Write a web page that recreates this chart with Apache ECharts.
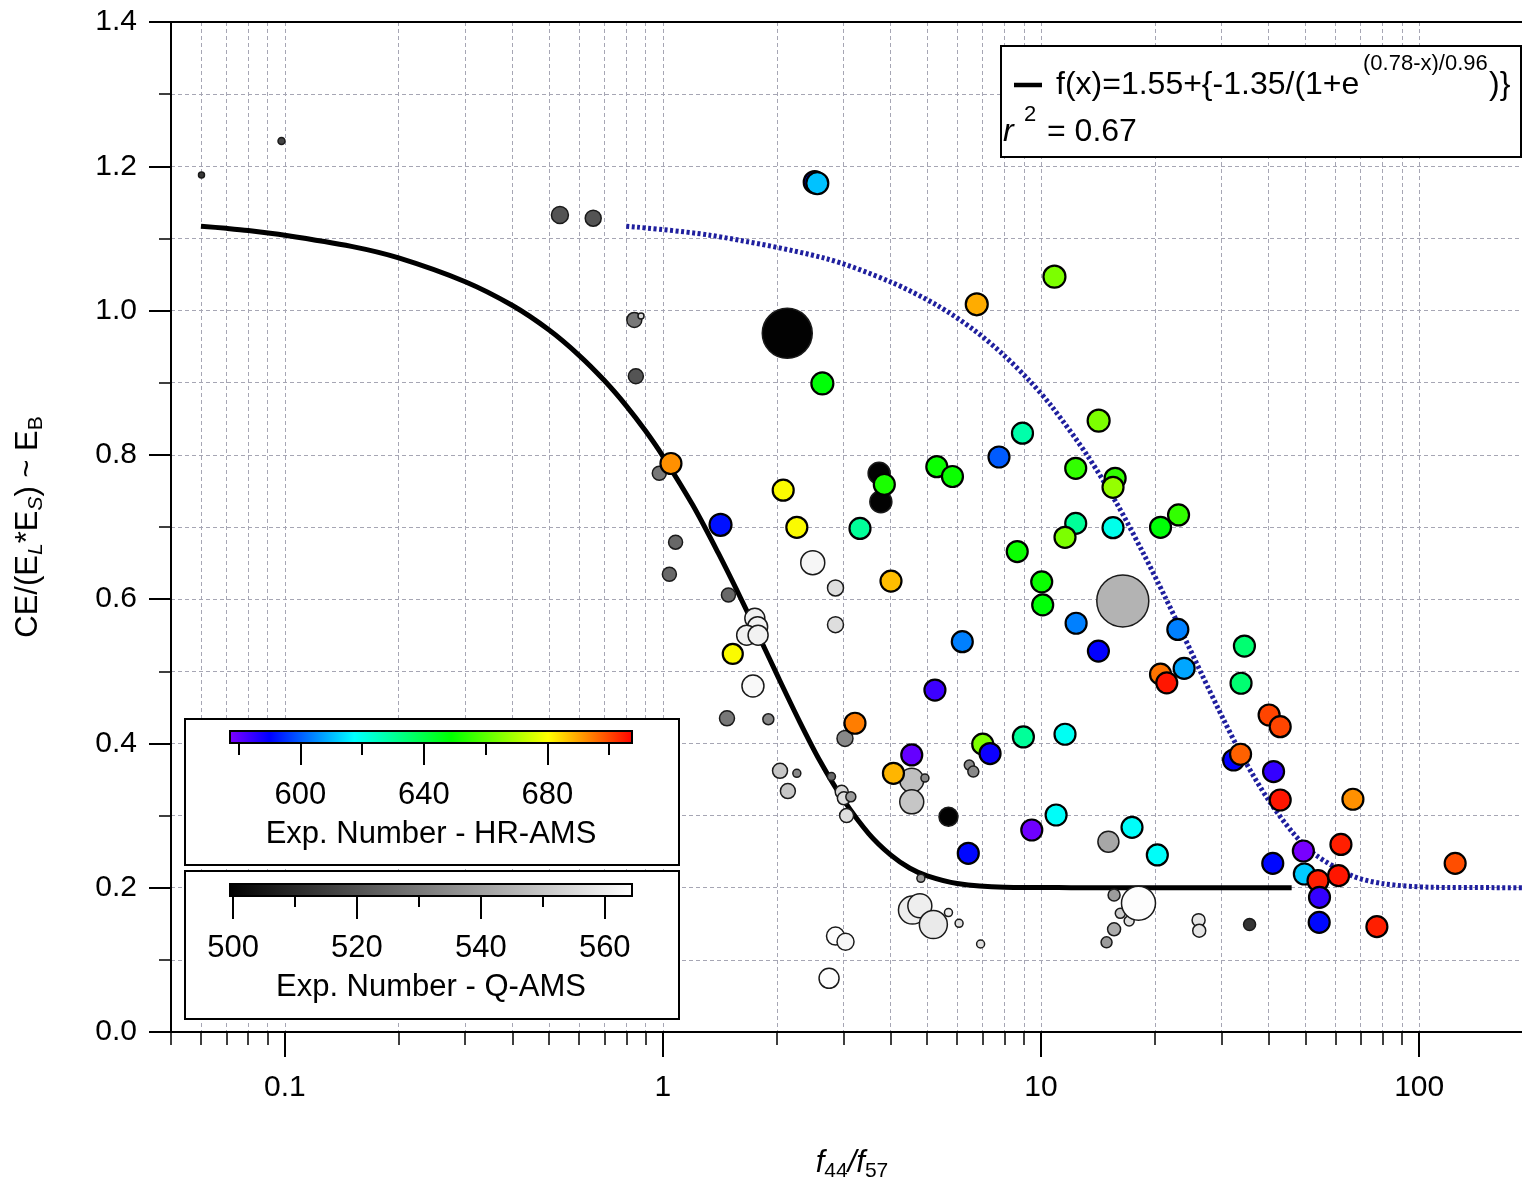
<!DOCTYPE html>
<html><head><meta charset="utf-8">
<script src="https://cdn.jsdelivr.net/npm/echarts@6/dist/echarts.min.js"></script>
<style>html,body{margin:0;padding:0;background:#fff}#c{width:1522px;height:1182px}</style>
</head><body><div id="c"></div>
<script>
const FONT = '"Liberation Sans", Arial, Helvetica, sans-serif';

// ---------- DATA ----------
const xMajorTicks = [0.1, 1, 10, 100];
const hrTicksMajor = [600, 640, 680];
const hrTicksMinor = [580, 620, 660, 700];
const qTicksMajor = [500, 520, 540, 560];
const qTicksMinor = [510, 530, 550];
const hrRange = [577.2, 707.4];
const qRange = [499.5, 564.4];
const hrAnchors = [[0, '#8000ff'], [0.1, '#0000ff'], [0.31, '#00ffff'], [0.55, '#00ff00'], [0.79, '#ffff00'], [1, '#ff0000']];
const qAnchors = [[0, '#000000'], [1, '#ffffff']];

// fitted sigmoid
const fitCurve = [
  [0.06,1.117],[0.07,1.114],[0.08,1.111],[0.1,1.1045],[0.15,1.089],[0.2,1.073],[0.3,1.040],
  [0.4,1.007],[0.5,0.973],[0.6,0.938],[0.7,0.903],[0.8,0.868],[0.9,0.833],[1.0,0.798],
  [1.2,0.730],[1.4,0.664],[1.6,0.603],[1.8,0.547],[2.0,0.496],[2.3,0.430],[2.6,0.376],
  [3.0,0.322],[3.5,0.275],[4.0,0.2455],[4.5,0.227],[5,0.2164],[6,0.2058],[8,0.2007],
  [12,0.2001],[20,0.2],[46,0.2]
];
// shifted sigmoid (blue dotted curve)
const shiftedCurve = [
  [0.8,1.117],[1.33,1.1045],[2.66,1.073],[3.99,1.040],[5.32,1.007],[6.65,0.973],[7.98,0.938],
  [9.31,0.903],[10.64,0.868],[13.3,0.798],[15.96,0.730],[18.62,0.664],[21.28,0.603],
  [23.94,0.547],[26.6,0.496],[30.59,0.430],[34.58,0.376],[39.9,0.322],[46.55,0.275],
  [53.2,0.2455],[66.5,0.2164],[79.8,0.2058],[106.4,0.2007],[159.6,0.2001],[200,0.2]
];

// Q-AMS experiments: [f44/f57, CE/(EL*ES), exp number, marker size]
const qamsPoints = [
  [0.0602,1.188,514,6],[0.098,1.235,517,7],[0.534,1.1325,521,17],[0.654,1.128,521,16],
  [0.840,0.987,530,15],[0.875,0.9925,556,6],[0.848,0.909,521,15],[2.132,0.9685,500,50],
  [0.978,0.7745,530,14],[1.08,0.679,526,14],[1.04,0.6345,526,14],[2.49,0.6506,562,24],
  [2.86,0.6155,556,16],[2.86,0.5646,556,16],[1.49,0.6058,526,14],[1.75,0.5735,561,20],
  [1.78,0.5618,561,20],[1.665,0.550,561,20],[1.785,0.550,561,20],[1.73,0.4796,563,22],
  [1.477,0.4348,530,15],[1.90,0.4335,534,11],[3.03,0.407,534,16],[3.73,0.7745,500,22],
  [3.77,0.735,500,22],[4.55,0.349,548,24],[4.55,0.319,550,24],[5.69,0.2985,500,19],
  [6.46,0.370,534,10],[6.62,0.361,534,11],[2.04,0.362,550,15],[2.26,0.3586,534,8],
  [2.14,0.334,550,15],[2.79,0.354,526,8],[2.97,0.333,554,13],[3.01,0.324,556,13],
  [3.14,0.326,539,10],[3.06,0.300,556,14],[4.81,0.213,539,8],[4.57,0.169,560,28],
  [4.78,0.175,560,24],[5.19,0.149,559,28],[5.69,0.1655,560,8],[6.07,0.1507,556,8],
  [6.92,0.122,556,8],[2.86,0.133,564,18],[3.04,0.125,562,17],[2.75,0.0744,564,20],
  [16.45,0.5975,545,52],[15.07,0.2638,542,21],[15.6,0.19,539,12],[16.2,0.1645,551,10],
  [17.1,0.154,556,10],[15.6,0.1424,543,13],[14.9,0.1243,539,11],[18.1,0.1784,564,34],
  [26.1,0.155,558,13],[26.2,0.1404,558,13],[35.6,0.149,513,12],[4.93,0.352,534,8]
];

// HR-AMS experiments: [f44/f57, CE/(EL*ES), exp number, marker size]
const hramsPoints = [
  [2.52,1.178,592,22],[2.56,1.1765,611,22],[2.64,0.899,648,22],[6.76,1.0087,689,22],
  [10.85,1.047,664,22],[8.93,0.83,628,21],[7.74,0.797,600,21],[1.05,0.788,692,21],
  [2.08,0.751,680,21],[1.42,0.703,592,22],[2.26,0.6996,680,21],[1.53,0.524,680,20],
  [3.22,0.428,694,21],[3.85,0.759,652,21],[3.32,0.698,630,21],[4.01,0.625,687,21],
  [5.30,0.7836,650,21],[5.83,0.770,650,21],[8.65,0.666,650,21],[10.04,0.624,650,21],
  [10.1,0.592,648,21],[6.19,0.541,604,21],[5.24,0.474,584,21],[8.98,0.409,630,21],
  [7.01,0.399,664,21],[7.33,0.386,589,21],[4.55,0.384,580,21],[4.07,0.3586,688,21],
  [6.42,0.2477,591,21],[9.45,0.280,579,21],[14.2,0.8474,664,22],[12.35,0.7814,655,21],
  [15.7,0.7675,655,21],[15.5,0.755,667,21],[12.35,0.705,630,21],[11.57,0.6857,664,21],
  [15.5,0.699,620,21],[20.7,0.6996,648,21],[23.1,0.7167,655,21],[12.38,0.5666,604,21],
  [14.18,0.528,590,21],[23.0,0.558,604,21],[23.9,0.504,608,21],[20.7,0.496,695,21],
  [21.5,0.484,705,21],[34.5,0.535,635,21],[33.8,0.4834,635,21],[40.1,0.4394,700,21],
  [42.9,0.4232,700,21],[32.3,0.377,590,21],[33.7,0.385,697,21],[41.2,0.361,585,21],
  [42.9,0.3216,705,21],[66.8,0.3226,692,21],[11.57,0.4127,619,21],[10.96,0.3008,618,21],
  [17.4,0.2837,618,21],[20.3,0.2454,618,21],[49.4,0.2509,578,21],[41.0,0.2338,591,21],
  [62.1,0.260,704,21],[49.7,0.219,612,21],[54.0,0.2097,704,21],[61.2,0.2167,705,21],
  [54.5,0.1867,585,21],[54.4,0.152,591,21],[77.3,0.146,704,21],[124.5,0.2338,699,21]
];

// ---------- HELPERS (styling only) ----------
function hexToRgb(h) { return [1, 3, 5].map(i => parseInt(h.substr(i, 2), 16)); }
function sampleColors(anchors, n) {
  const out = [];
  for (let k = 0; k < n; k++) {
    const t = k / (n - 1);
    let j = 0;
    while (j < anchors.length - 2 && t > anchors[j + 1][0]) j++;
    const [t0, c0] = anchors[j], [t1, c1] = anchors[j + 1];
    const u = (t - t0) / (t1 - t0);
    const a = hexToRgb(c0), b = hexToRgb(c1);
    out.push('rgb(' + a.map((v, i) => Math.round(v + (b[i] - v) * u)).join(',') + ')');
  }
  return out;
}
const hrColors = sampleColors(hrAnchors, 61);
const qColors = sampleColors(qAnchors, 2);

// ---------- CHART ----------
const chart = echarts.init(document.getElementById('c'), null, {renderer: 'canvas'});
const gridLine = {color: '#a6a6b4', width: 1, type: [4, 3]};
const black = '#000';

function colorbar(xIdx, yIdx, anchors) {
  return {
    type: 'custom', xAxisIndex: xIdx, yAxisIndex: yIdx, data: [[0, 0]], z: 20, silent: true,
    renderItem: (params, api) => {
      const cs = params.coordSys;
      return {type: 'rect', shape: {x: cs.x, y: cs.y, width: cs.width, height: cs.height},
        style: {fill: new echarts.graphic.LinearGradient(0, 0, 1, 0, anchors.map(a => ({offset: a[0], color: a[1]}))),
          stroke: black, lineWidth: 2}};
    }
  };
}
function cbAxis(grid, range, ticks, len, withLabels, name) {
  return {
    type: 'value', gridIndex: grid, min: range[0], max: range[1], position: 'bottom', z: 20,
    axisLine: {show: false},
    axisTick: {show: true, customValues: ticks, length: len, inside: false, lineStyle: {color: black, width: 2}},
    axisLabel: withLabels ? {show: true, customValues: ticks, fontSize: 31, fontFamily: FONT, color: black, margin: 37} : {show: false},
    splitLine: {show: false},
    name: name || '', nameLocation: 'middle', nameGap: 76,
    nameTextStyle: {fontSize: 31, fontFamily: FONT, color: black}
  };
}

const option = {
  animation: false,
  backgroundColor: '#fff',
  textStyle: {fontFamily: FONT},
  grid: [
    {left: 171, right: -11, top: 22, bottom: 150, containLabel: false, outerBoundsMode: 'none'},
    {left: 230, top: 731, width: 402, height: 12, outerBoundsMode: 'none'},
    {left: 230, top: 884, width: 402, height: 12, outerBoundsMode: 'none'}
  ],
  xAxis: [
    {
      type: 'log', logBase: 10, gridIndex: 0, min: 0.05, max: 200, position: 'bottom',
      axisLine: {show: true, onZero: false, lineStyle: {color: black, width: 2}},
      axisTick: {show: true, customValues: xMajorTicks, length: 25, lineStyle: {color: black, width: 2}},
      minorTick: {show: true, splitNumber: 9, length: 13, lineStyle: {color: black, width: 1.5}},
      axisLabel: {show: true, customValues: xMajorTicks, fontSize: 30, fontFamily: FONT, color: black, margin: 41,
        formatter: v => String(+v.toPrecision(6))},
      splitLine: {show: true, lineStyle: gridLine},
      minorSplitLine: {show: true, lineStyle: gridLine},
      name: '{fi|f}{s|44}{fi|/f}{s|57}', nameLocation: 'middle', nameGap: 112,
      nameTextStyle: {rich: {
        fi: {fontSize: 31, fontStyle: 'italic', fontFamily: FONT, color: black, lineHeight: 38},
        s: {fontSize: 21, fontFamily: FONT, color: black, lineHeight: 24, verticalAlign: 'bottom'}
      }}
    },
    {
      type: 'log', logBase: 10, gridIndex: 0, min: 0.05, max: 200, position: 'top',
      axisLine: {show: true, onZero: false, lineStyle: {color: black, width: 2}},
      axisTick: {show: false}, axisLabel: {show: false}, splitLine: {show: false}
    },
    cbAxis(1, hrRange, hrTicksMajor, 22, true, 'Exp. Number - HR-AMS'),
    cbAxis(1, hrRange, hrTicksMinor, 12, false),
    cbAxis(2, qRange, qTicksMajor, 23, true, 'Exp. Number - Q-AMS'),
    cbAxis(2, qRange, qTicksMinor, 11, false)
  ],
  yAxis: [
    {
      type: 'value', gridIndex: 0, min: 0, max: 1.4, interval: 0.2,
      axisLine: {show: true, onZero: false, lineStyle: {color: black, width: 2}},
      axisTick: {show: true, length: 22, lineStyle: {color: black, width: 2}},
      minorTick: {show: true, splitNumber: 2, length: 12, lineStyle: {color: black, width: 1.5}},
      axisLabel: {fontSize: 30, fontFamily: FONT, color: black, margin: 34, formatter: v => v.toFixed(1)},
      splitLine: {show: true, lineStyle: gridLine},
      minorSplitLine: {show: true, lineStyle: gridLine},
      name: '{m|CE/(E}{si|L}{m|*E}{si|S}{m|) ~ E}{s|B}', nameLocation: 'middle', nameGap: 124, nameRotate: 90,
      nameTextStyle: {rich: {
        m: {fontSize: 31, fontFamily: FONT, color: black, lineHeight: 38},
        s: {fontSize: 21, fontFamily: FONT, color: black, lineHeight: 24, verticalAlign: 'bottom'},
        si: {fontSize: 21, fontStyle: 'italic', fontFamily: FONT, color: black, lineHeight: 24, verticalAlign: 'bottom'}
      }}
    },
    {type: 'value', gridIndex: 1, min: 0, max: 1, show: false},
    {type: 'value', gridIndex: 2, min: 0, max: 1, show: false}
  ],
  visualMap: [
    {type: 'continuous', show: false, seriesIndex: 3, dimension: 2, min: hrRange[0], max: hrRange[1], inRange: {color: hrColors}},
    {type: 'continuous', show: false, seriesIndex: 2, dimension: 2, min: qRange[0], max: qRange[1], inRange: {color: qColors}}
  ],
  series: [
    {type: 'line', name: 'fit', xAxisIndex: 0, yAxisIndex: 0, data: fitCurve, smooth: 0.3, symbol: 'none', z: 2,
      lineStyle: {color: black, width: 5}, silent: true},
    {type: 'line', name: 'shifted', xAxisIndex: 0, yAxisIndex: 0, data: shiftedCurve, smooth: 0.3, symbol: 'none', z: 2,
      lineStyle: {color: '#1f1f9e', width: 5, type: [3, 2.5]}, silent: true},
    {type: 'scatter', name: 'Q-AMS', xAxisIndex: 0, yAxisIndex: 0, data: qamsPoints, symbol: 'circle',
      symbolSize: d => d[3], z: 3, itemStyle: {opacity: 1, borderColor: '#1a1a1a', borderWidth: 1.5}},
    {type: 'scatter', name: 'HR-AMS', xAxisIndex: 0, yAxisIndex: 0, data: hramsPoints, symbol: 'circle',
      symbolSize: d => d[3], z: 4, itemStyle: {opacity: 1, borderColor: black, borderWidth: 2.2}},
    colorbar(2, 1, hrAnchors),
    colorbar(4, 2, qAnchors)
  ],
  graphic: [
    {type: 'rect', z: 10, shape: {x: 1001, y: 46, width: 520, height: 111}, style: {fill: '#fff', stroke: black, lineWidth: 2}},
    {type: 'line', z: 11, shape: {x1: 1014, y1: 85, x2: 1042, y2: 85}, style: {stroke: black, lineWidth: 4.5}},
    {type: 'text', z: 11, x: 1056, y: 85, style: {text: 'f(x)=1.55+{-1.35/(1+e', fontSize: 32, fontFamily: FONT, fill: black, verticalAlign: 'middle'}},
    {type: 'text', z: 11, x: 1363, y: 64, style: {text: '(0.78-x)/0.96', fontSize: 22, fontFamily: FONT, fill: black, verticalAlign: 'middle'}},
    {type: 'text', z: 11, x: 1489, y: 85, style: {text: ')}', fontSize: 32, fontFamily: FONT, fill: black, verticalAlign: 'middle'}},
    {type: 'text', z: 11, x: 1003, y: 132, style: {text: 'r', fontSize: 32, fontStyle: 'italic', fontFamily: FONT, fill: black, verticalAlign: 'middle'}},
    {type: 'text', z: 11, x: 1024, y: 115, style: {text: '2', fontSize: 22, fontFamily: FONT, fill: black, verticalAlign: 'middle'}},
    {type: 'text', z: 11, x: 1047, y: 132, style: {text: '= 0.67', fontSize: 32, fontFamily: FONT, fill: black, verticalAlign: 'middle'}},
    {type: 'rect', z: 10, shape: {x: 185, y: 719, width: 494, height: 146}, style: {fill: '#fff', stroke: black, lineWidth: 2}},
    {type: 'rect', z: 10, shape: {x: 185, y: 871, width: 494, height: 148}, style: {fill: '#fff', stroke: black, lineWidth: 2}}
  ]
};
chart.setOption(option);
</script>
</body></html>
